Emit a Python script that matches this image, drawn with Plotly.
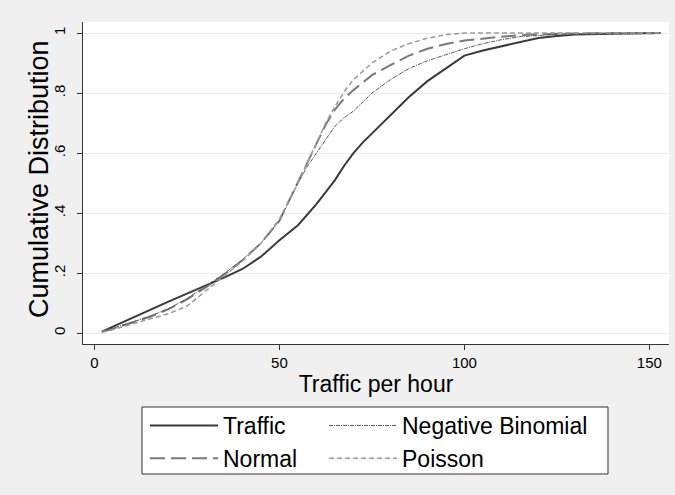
import plotly.graph_objects as go

# ---- data ----
traffic_x = [2, 5, 8, 10, 15, 20, 25, 30, 35, 40, 45, 50, 55, 60, 62.5, 65, 67.5, 70, 72.5, 75, 80, 85, 90, 95, 100, 105, 110, 115, 120, 125, 130, 140, 153]
traffic_y = [0.005, 0.022, 0.038, 0.05, 0.077, 0.105, 0.132, 0.158, 0.185, 0.214, 0.255, 0.31, 0.36, 0.43, 0.47, 0.51, 0.558, 0.60, 0.635, 0.665, 0.727, 0.787, 0.84, 0.884, 0.925, 0.942, 0.956, 0.972, 0.984, 0.99, 0.995, 0.998, 1.0]

normal_x = [2, 5, 10, 15, 20, 25, 30, 35, 40, 45, 50, 52.5, 55, 57.5, 60, 62.5, 65, 67.5, 70, 75, 80, 85, 90, 95, 100, 105, 110, 115, 120, 130, 140, 153]
normal_y = [0.005, 0.015, 0.035, 0.055, 0.08, 0.113, 0.152, 0.195, 0.243, 0.30, 0.375, 0.44, 0.505, 0.57, 0.635, 0.695, 0.745, 0.782, 0.81, 0.86, 0.893, 0.925, 0.948, 0.964, 0.975, 0.982, 0.988, 0.993, 0.996, 0.999, 1.0, 1.0]

negbin_x = [2, 5, 10, 15, 20, 25, 30, 35, 40, 45, 50, 52.5, 55, 57.5, 60, 62.5, 65, 67.5, 70, 75, 80, 85, 90, 95, 100, 105, 110, 115, 120, 125, 130, 140, 153]
negbin_y = [0.005, 0.016, 0.036, 0.056, 0.082, 0.115, 0.155, 0.198, 0.245, 0.30, 0.375, 0.44, 0.50, 0.555, 0.60, 0.645, 0.69, 0.718, 0.74, 0.80, 0.845, 0.882, 0.908, 0.928, 0.948, 0.965, 0.978, 0.988, 0.993, 0.996, 0.998, 1.0, 1.0]

poisson_x = [2, 5, 10, 15, 20, 25, 30, 35, 40, 45, 50, 55, 60, 62.5, 65, 67.5, 70, 75, 80, 85, 90, 95, 100, 110, 120, 130, 140, 153]
poisson_y = [0.003, 0.012, 0.03, 0.048, 0.065, 0.09, 0.14, 0.19, 0.24, 0.30, 0.38, 0.50, 0.635, 0.70, 0.755, 0.805, 0.845, 0.90, 0.94, 0.965, 0.983, 0.995, 1.0, 1.0, 1.0, 1.0, 1.0, 1.0]

y_tickvals = [0, 0.2, 0.4, 0.6, 0.8, 1]
y_ticktext = ["0", ".2", ".4", ".6", ".8", "1"]
x_tickvals = [0, 50, 100, 150]

FONT = "Arial, Liberation Sans, sans-serif"

fig = go.Figure()
fig.add_trace(go.Scatter(x=traffic_x, y=traffic_y, mode="lines", name="Traffic",
                         line=dict(color="#3a3a3a", width=2), legend="legend"))
fig.add_trace(go.Scatter(x=normal_x, y=normal_y, mode="lines", name="Normal",
                         line=dict(color="#7a7a7a", width=2, dash="15px,6px"), legend="legend"))
fig.add_trace(go.Scatter(x=negbin_x, y=negbin_y, mode="lines", name="Negative Binomial",
                         line=dict(color="#555555", width=1, dash="4px,1px,1px,1px"), legend="legend2"))
fig.add_trace(go.Scatter(x=poisson_x, y=poisson_y, mode="lines", name="Poisson",
                         line=dict(color="#9a9a9a", width=1.5, dash="5px,3px"), legend="legend2"))

# plot area: x 83..669, y 22..344 (pixels)
def px_x(p):
    return (p - 83) / 586.0

def px_y(p):
    return (344 - p) / 322.0

legend_common = dict(
    orientation="v", xanchor="left", yanchor="top",
    bgcolor="rgba(0,0,0,0)", borderwidth=0,
    font=dict(family=FONT, size=23, color="#000000"),
    itemwidth=68, tracegroupgap=0,
)

fig.update_layout(
    width=675, height=495,
    paper_bgcolor="#f0f0f0", plot_bgcolor="#ffffff",
    margin=dict(l=83, r=6, t=22, b=151, autoexpand=False),
    showlegend=True,
    legend=dict(x=px_x(145), y=px_y(404), **legend_common),
    legend2=dict(x=px_x(324), y=px_y(404), **legend_common),
    shapes=[dict(type="rect", xref="paper", yref="paper",
                 x0=px_x(142), x1=px_x(608), y0=px_y(474), y1=px_y(407),
                 fillcolor="#ffffff", line=dict(color="#333333", width=1), layer="below")],
    annotations=[dict(text="Cumulative Distribution", xref="paper", yref="paper",
                      x=px_x(39), y=px_y(179), xanchor="center", yanchor="middle",
                      textangle=-90, showarrow=False,
                      font=dict(family=FONT, size=27, color="#000000"))],
    xaxis=dict(range=[-3.1, 155.3], tickvals=x_tickvals, showgrid=False, zeroline=False,
               showline=True, linecolor="#333333", linewidth=1,
               ticks="outside", ticklen=5, tickcolor="#333333",
               tickfont=dict(family=FONT, size=15, color="#000000"),
               title=dict(text="Traffic per hour", font=dict(family=FONT, size=23, color="#000000"), standoff=2)),
    yaxis=dict(range=[-0.036, 1.037], tickvals=y_tickvals, ticktext=y_ticktext, tickangle=-90,
               showgrid=True, gridcolor="#ebebeb", gridwidth=1, zeroline=False,
               showline=True, linecolor="#333333", linewidth=1,
               ticks="outside", ticklen=5, tickcolor="#333333", ticklabelstandoff=6,
               tickfont=dict(family=FONT, size=15, color="#000000")),
)

fig.write_html("out.html", config={"displayModeBar": False},
               post_script="document.body.style.margin='0';")
